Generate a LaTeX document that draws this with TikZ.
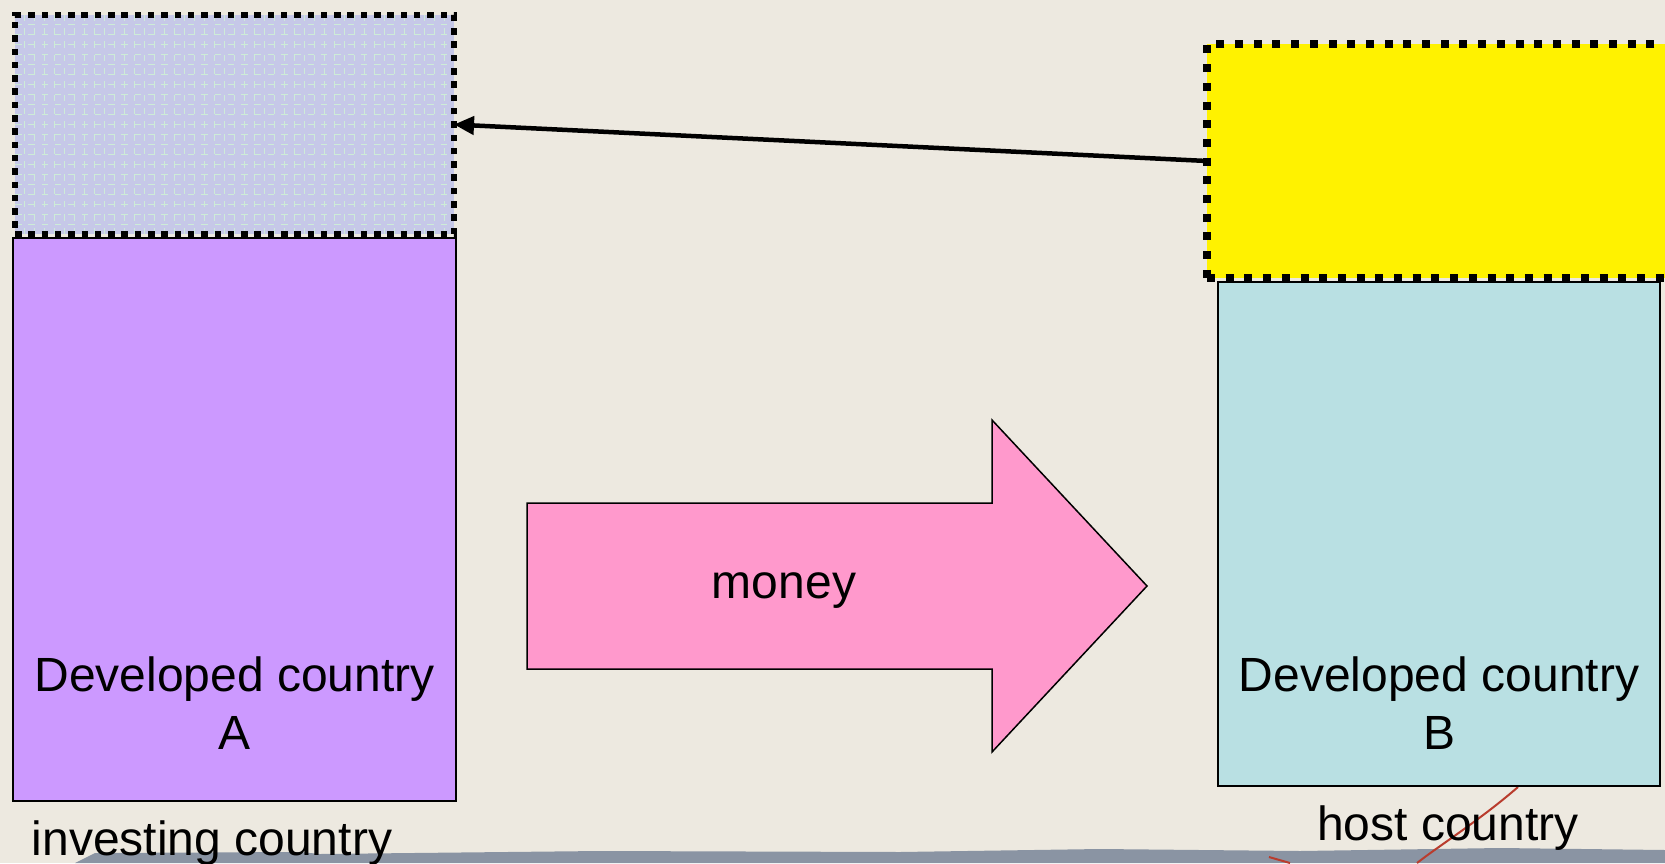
\documentclass[tikz,border=0pt]{standalone}
\usepackage{fontspec}
\setmainfont{Liberation Sans}
\usetikzlibrary{arrows.meta}
\definecolor{paper}{RGB}{237,233,224}
\definecolor{band}{RGB}{138,148,163}
\definecolor{gridfill}{RGB}{198,200,232}
\definecolor{gridline}{RGB}{205,236,215}
\definecolor{purplebox}{RGB}{204,153,255}
\definecolor{bluebox}{RGB}{185,224,227}
\definecolor{pinkarrow}{RGB}{255,153,204}
\definecolor{crack}{RGB}{185,60,45}
\tikzset{
  lbl/.style={font=\fontsize{48}{58}\selectfont, inner sep=0pt, outer sep=0pt},
  plainbox/.style={draw=black, line width=2pt, inner sep=0pt, outer sep=0pt, anchor=north west},
  dotbox/.style={draw=black, inner sep=0pt, outer sep=0pt, anchor=north west, line cap=butt},
}
\begin{document}
\begin{tikzpicture}[x=1pt,y=-1pt]
\useasboundingbox (0,0) rectangle (1665,863);
% background
\fill[paper] (0,0) rectangle (1665,863);
\fill[band] (75,863) -- (95,853) -- (300,852) -- (320,854) -- (600,851) -- (900,852) -- (1100,849) -- (1300,851) -- (1500,848) -- (1665,850) -- (1665,863) -- cycle;
\draw[crack, line width=2pt] (1518,787) .. controls (1480,820) and (1440,845) .. (1417,863);
\draw[crack, line width=2pt] (1269,857) -- (1290,863);

% investing country A
\node[plainbox, fill=purplebox, minimum width=443pt, minimum height=563pt] (boxA) at (13,238) {};
\node[dotbox, fill=gridfill, line width=6.5pt, dash pattern=on 6.5pt off 6.8pt,
      minimum width=439pt, minimum height=219pt,
      path picture={\draw[gridline, line width=1.6pt] (path picture bounding box.south west) grid[step=10pt] (path picture bounding box.north east);}] (topA) at (15,15) {};
\node[lbl, align=center, anchor=north] (tA) at (234.5,656.6) {Developed country\\A};
\node[lbl, anchor=base] (invest) at (212,855) {investing country};

% host country B
\node[plainbox, fill=bluebox, minimum width=442pt, minimum height=504pt] (boxB) at (1218,282) {};
\node[dotbox, fill=yellow, line width=8pt, dash pattern=on 8pt off 10.7pt,
      minimum width=462pt, minimum height=234pt] (topB) at (1207,44) {};
\node[lbl, align=center, anchor=north] (tB) at (1439,656.6) {Developed country\\B};
\node[lbl, anchor=base] (host) at (1448,840) {host country};

% money arrow
\draw[fill=pinkarrow, draw=black, line width=1.5pt, line join=miter]
  (527,503) -- (992,503) -- (992,420) -- (1147,586) -- (992,752) -- (992,669) -- (527,669) -- cycle;
\node[lbl, anchor=base] (money) at (784,598) {money};

% return flow
\draw[line width=4.5pt, -{Triangle[length=20pt,width=18pt]}] (topB.west) -- (topA.east);
\end{tikzpicture}
\end{document}
